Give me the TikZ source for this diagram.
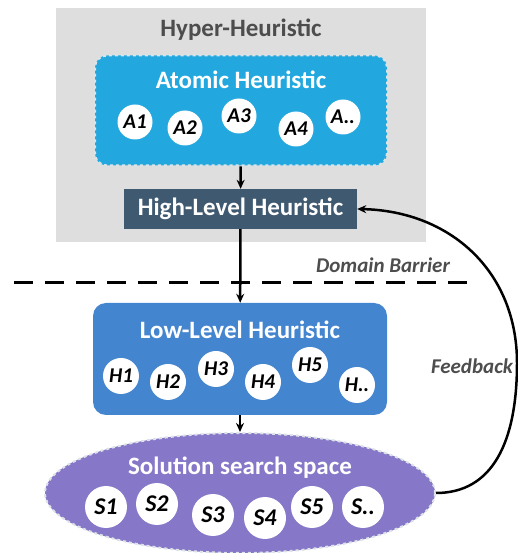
\documentclass[tikz,border=0pt]{standalone}
\usepackage{fontspec}
\setmainfont{Carlito}
\usetikzlibrary{shapes.geometric,arrows.meta}

\definecolor{hypergray}{HTML}{DEDEDE}
\definecolor{atomblue}{HTML}{22A8DF}
\definecolor{highslate}{HTML}{3F5970}
\definecolor{lowblue}{HTML}{4485CF}
\definecolor{solpurple}{HTML}{8777C8}
\definecolor{titlegray}{HTML}{4D4D4D}
\definecolor{edgegray}{HTML}{DCE4E8}

\tikzset{
  boxtitle/.style={text=white,font=\bfseries\fontsize{25bp}{28bp}\selectfont},
  heur/.style={circle,fill=white,inner sep=0pt,minimum size=#1,
    font=\bfseries\itshape\fontsize{21bp}{23bp}\selectfont},
  heur/.default=35bp,
  bigheur/.style={heur=42bp,font=\bfseries\itshape\fontsize{24bp}{26bp}\selectfont},
  flow/.style={->,line width=2.5bp},
  sidelabel/.style={text=titlegray,font=\bfseries\itshape\fontsize{21bp}{24bp}\selectfont}
}

\begin{document}
\begin{tikzpicture}[>={Stealth[length=9bp,width=8bp]}]
  \useasboundingbox (0bp,0bp) rectangle (518bp,553bp);
  % hyper-heuristic layer
  \node (hyperbox) at (241bp,428bp) [fill=hypergray,minimum width=370bp,minimum height=234bp] {};
  \node (hyper) at (241bp,523bp) [text=titlegray,font=\bfseries\fontsize{25bp}{28bp}\selectfont] {Hyper-Heuristic};
  \node (atomic) at (241bp,442.5bp) [fill=atomblue,draw=edgegray,dashed,line width=2bp,rounded corners=12bp,minimum width=292bp,minimum height=110bp] {};
  \node (atomictitle) at (241bp,473bp) [boxtitle] {Atomic Heuristic};
  \node (A1) at (135bp,431bp) [heur] {A1};
  \node (A2) at (185bp,425bp) [heur] {A2};
  \node (A3) at (239bp,437bp) [heur] {A3};
  \node (A4) at (296bp,424bp) [heur] {A4};
  \node (An) at (343bp,436bp) [heur] {A..};
  \node (high) at (240.5bp,344bp) [fill=highslate,minimum width=233bp,minimum height=40bp,boxtitle] {High-Level Heuristic};
  % domain barrier
  \coordinate (barrierL) at (14bp,270bp);
  \coordinate (barrierR) at (470bp,270bp);
  \draw [line width=3bp,dash pattern=on 19bp off 12bp] (barrierL) -- (barrierR);
  \node (barrier) at (383bp,288bp) [sidelabel] {Domain Barrier};
  % low-level layer
  \node (low) at (240bp,194bp) [fill=lowblue,rounded corners=13bp,minimum width=294bp,minimum height=112bp] {};
  \node (lowtitle) at (240bp,223bp) [boxtitle] {Low-Level Heuristic};
  \node (H1) at (121bp,177bp) [heur=36bp] {H1};
  \node (H2) at (168bp,171bp) [heur=36bp] {H2};
  \node (H3) at (216bp,184bp) [heur=36bp] {H3};
  \node (H4) at (263bp,171bp) [heur=36bp] {H4};
  \node (H5) at (310bp,188bp) [heur=36bp] {H5};
  \node (Hn) at (357bp,168bp) [heur=36bp] {H..};
  % solution space
  \node (sol) at (240bp,60bp) [ellipse,fill=solpurple,draw=edgegray,dashed,line width=2bp,minimum width=390bp,minimum height=120bp] {};
  \node (soltitle) at (240bp,85bp) [boxtitle] {Solution search space};
  \node (S1) at (106bp,46bp) [bigheur] {S1};
  \node (S2) at (157bp,49bp) [bigheur] {S2};
  \node (S3) at (213bp,38bp) [bigheur] {S3};
  \node (S4) at (265bp,35bp) [bigheur] {S4};
  \node (S5) at (312bp,46bp) [bigheur] {S5};
  \node (Sn) at (363bp,46bp) [bigheur] {S..};
  \node (feedback) at (472bp,187bp) [sidelabel] {Feedback};
  % connectors
  \draw [flow] (atomic) -- (high);
  \draw [flow] (high) -- (low);
  \draw [flow] (low) -- (sol);
  \draw [flow] (sol.east) ..controls (492bp,60bp) and (517bp,110bp) .. (517bp,190bp) .. controls (517bp,282bp) and (450bp,342bp) .. (high.east);
\end{tikzpicture}
\end{document}
